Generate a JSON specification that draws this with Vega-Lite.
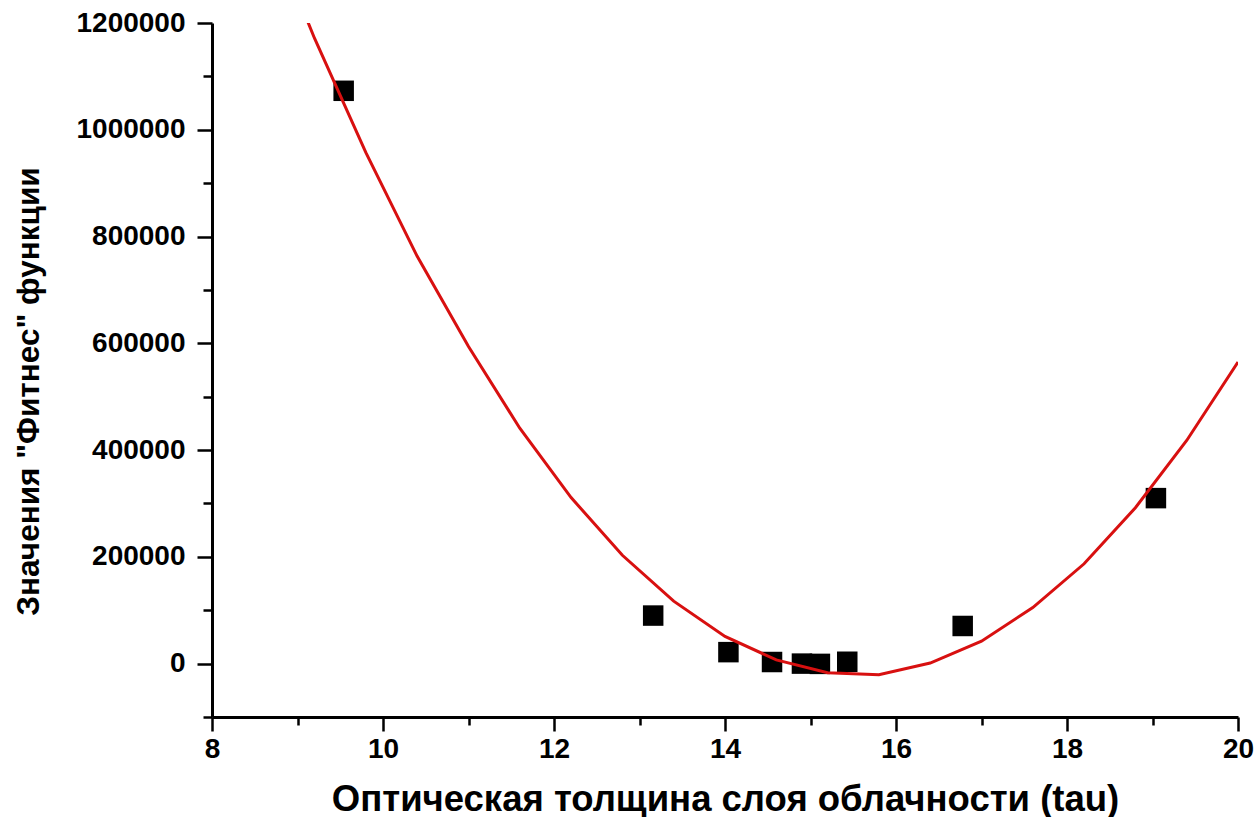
{
  "$schema": "https://vega.github.io/schema/vega-lite/v6.json",
  "width": 1026,
  "height": 694,
  "autosize": {"type": "none"},
  "padding": {"left": 212, "top": 23, "right": 21, "bottom": 100},
  "background": "white",
  "config": {
    "view": {"stroke": null},
    "axis": {
      "labelFont": "Liberation Sans",
      "titleFont": "Liberation Sans",
      "labelColor": "black",
      "titleColor": "black",
      "domainColor": "black",
      "tickColor": "black",
      "domainWidth": 3,
      "tickWidth": 2.5,
      "grid": false
    }
  },
  "datasets": {
    "points": [
      {"tau": 9.54, "fit": 1073000},
      {"tau": 13.16, "fit": 90000},
      {"tau": 14.04, "fit": 21500},
      {"tau": 14.55, "fit": 3000},
      {"tau": 14.9, "fit": 0},
      {"tau": 15.11, "fit": -500},
      {"tau": 15.43, "fit": 3500},
      {"tau": 16.78, "fit": 70500},
      {"tau": 19.04, "fit": 310000}
    ],
    "curve": [
      {"tau": 8.0, "fit": 1664000},
      {"tau": 8.6, "fit": 1407000},
      {"tau": 9.2, "fit": 1171000},
      {"tau": 9.8, "fit": 957000},
      {"tau": 10.4, "fit": 763000},
      {"tau": 11.0, "fit": 594000},
      {"tau": 11.6, "fit": 441000},
      {"tau": 12.2, "fit": 311000},
      {"tau": 12.8, "fit": 203000},
      {"tau": 13.4, "fit": 117000},
      {"tau": 14.0, "fit": 51000},
      {"tau": 14.6, "fit": 7000},
      {"tau": 15.2, "fit": -17000},
      {"tau": 15.8, "fit": -21000},
      {"tau": 16.4, "fit": 1000},
      {"tau": 17.0, "fit": 42000},
      {"tau": 17.6, "fit": 105000},
      {"tau": 18.2, "fit": 187000},
      {"tau": 18.8, "fit": 292000},
      {"tau": 19.4, "fit": 418000},
      {"tau": 20.0, "fit": 565000}
    ]
  },
  "layer": [
    {
      "data": {"name": "points"},
      "mark": {"type": "point", "shape": "square", "filled": true, "color": "black", "opacity": 1, "size": 420},
      "encoding": {
        "x": {
          "field": "tau", "type": "quantitative",
          "scale": {"domain": [8, 20], "nice": false, "zero": false},
          "axis": {
            "title": "Оптическая толщина слоя облачности (tau)",
            "titleFontSize": 36.5,
            "titleFontWeight": "bold",
            "titleY": 93,
            "titleBaseline": "alphabetic",
            "values": [8, 9, 10, 11, 12, 13, 14, 15, 16, 17, 18, 19, 20],
            "labelExpr": "datum.value % 2 == 0 ? format(datum.value, 'd') : ''",
            "tickSize": {"condition": {"test": "datum.value % 2 == 0", "value": 14}, "value": 8},
            "labelFontSize": 28,
            "labelFontWeight": "bold",
            "labelPadding": 4,
            "labelFlush": false,
            "labelOverlap": false
          }
        },
        "y": {
          "field": "fit", "type": "quantitative",
          "scale": {"domain": [-100000, 1200000], "nice": false, "zero": false},
          "axis": {
            "title": "Значения \"Фитнес\" функции",
            "titleFontSize": 31.5,
            "titleFontWeight": "bold",
            "titleX": -183,
            "titleY": 368,
            "titleBaseline": "middle",
            "titleAngle": -90,
            "values": [-100000, 0, 100000, 200000, 300000, 400000, 500000, 600000, 700000, 800000, 900000, 1000000, 1100000, 1200000],
            "labelExpr": "datum.value >= 0 && datum.value % 200000 == 0 ? format(datum.value, 'd') : ''",
            "tickSize": {"condition": {"test": "datum.value % 200000 == 0", "value": 15}, "value": 9},
            "labelFontSize": 28,
            "labelFontWeight": "bold",
            "labelPadding": 12,
            "labelFlush": false,
            "labelOverlap": false
          }
        }
      }
    },
    {
      "data": {"name": "curve"},
      "mark": {"type": "line", "color": "#d81010", "strokeWidth": 3, "clip": true},
      "encoding": {
        "x": {"field": "tau", "type": "quantitative"},
        "y": {"field": "fit", "type": "quantitative"}
      }
    }
  ]
}
